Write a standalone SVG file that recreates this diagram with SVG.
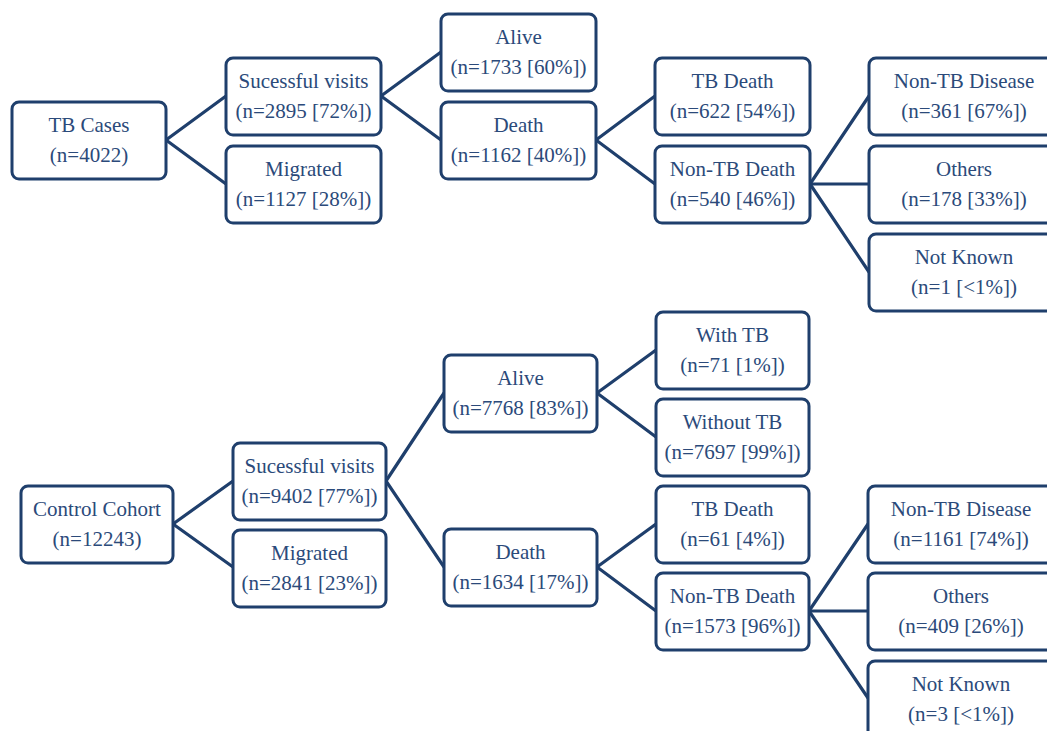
<svg xmlns="http://www.w3.org/2000/svg" width="1047" height="731" viewBox="0 0 1047 731">
<style>
.b{fill:#fff;stroke:#1f3f6c;stroke-width:3}
.t{font-size:21px;fill:#2b4a7a;text-anchor:middle}
.c line{stroke:#1f3f6c;stroke-width:3.2;stroke-linecap:round}
</style>
<rect width="1047" height="731" fill="#fff"/>
<g class="c" id="connectors">
<line x1="166" y1="140" x2="226" y2="96"/>
<line x1="166" y1="140" x2="226" y2="184"/>
<line x1="381" y1="96" x2="441" y2="52"/>
<line x1="381" y1="96" x2="441" y2="140"/>
<line x1="596" y1="140" x2="655" y2="96"/>
<line x1="596" y1="140" x2="655" y2="184"/>
<line x1="810" y1="184" x2="869" y2="96"/>
<line x1="810" y1="184" x2="869" y2="184"/>
<line x1="810" y1="184" x2="869" y2="272"/>
<line x1="173" y1="524" x2="233" y2="481"/>
<line x1="173" y1="524" x2="233" y2="567"/>
<line x1="386" y1="481" x2="444" y2="393"/>
<line x1="386" y1="481" x2="444" y2="567"/>
<line x1="597" y1="393" x2="656" y2="350"/>
<line x1="597" y1="393" x2="656" y2="437"/>
<line x1="597" y1="567" x2="656" y2="524"/>
<line x1="597" y1="567" x2="656" y2="611"/>
<line x1="809" y1="611" x2="868" y2="524"/>
<line x1="809" y1="611" x2="868" y2="611"/>
<line x1="809" y1="611" x2="868" y2="698"/>
</g>
<g font-family="'Liberation Serif', 'DejaVu Serif', serif">
<g id="tb-cases"><rect class="b" x="12" y="102" width="154" height="77" rx="7"/><text class="t" x="89" y="132">TB Cases</text><text class="t" x="89" y="162">(n=4022)</text></g>
<g id="tb-sv"><rect class="b" x="226" y="58" width="155" height="77" rx="7"/><text class="t" x="303.5" y="88">Sucessful visits</text><text class="t" x="303.5" y="118">(n=2895 [72%])</text></g>
<g id="tb-mig"><rect class="b" x="226" y="146" width="155" height="77" rx="7"/><text class="t" x="303.5" y="176">Migrated</text><text class="t" x="303.5" y="206">(n=1127 [28%])</text></g>
<g id="tb-alive"><rect class="b" x="441" y="14" width="155" height="77" rx="7"/><text class="t" x="518.5" y="44">Alive</text><text class="t" x="518.5" y="74">(n=1733 [60%])</text></g>
<g id="tb-death"><rect class="b" x="441" y="102" width="155" height="77" rx="7"/><text class="t" x="518.5" y="132">Death</text><text class="t" x="518.5" y="162">(n=1162 [40%])</text></g>
<g id="tb-tbdeath"><rect class="b" x="655" y="58" width="155" height="77" rx="7"/><text class="t" x="732.5" y="88">TB Death</text><text class="t" x="732.5" y="118">(n=622 [54%])</text></g>
<g id="tb-nontbdeath"><rect class="b" x="655" y="146" width="155" height="77" rx="7"/><text class="t" x="732.5" y="176">Non-TB Death</text><text class="t" x="732.5" y="206">(n=540 [46%])</text></g>
<g id="tb-nontbdisease"><rect class="b" x="869" y="58" width="190" height="77" rx="7"/><text class="t" x="964" y="88">Non-TB Disease</text><text class="t" x="964" y="118">(n=361 [67%])</text></g>
<g id="tb-others"><rect class="b" x="869" y="146" width="190" height="77" rx="7"/><text class="t" x="964" y="176">Others</text><text class="t" x="964" y="206">(n=178 [33%])</text></g>
<g id="tb-notknown"><rect class="b" x="869" y="234" width="190" height="77" rx="7"/><text class="t" x="964" y="264">Not Known</text><text class="t" x="964" y="294">(n=1 [&lt;1%])</text></g>
<g id="cc"><rect class="b" x="21" y="486" width="152" height="77" rx="7"/><text class="t" x="97" y="516">Control Cohort</text><text class="t" x="97" y="546">(n=12243)</text></g>
<g id="cc-sv"><rect class="b" x="233" y="443" width="153" height="77" rx="7"/><text class="t" x="309.5" y="473">Sucessful visits</text><text class="t" x="309.5" y="503">(n=9402 [77%])</text></g>
<g id="cc-mig"><rect class="b" x="233" y="530" width="153" height="77" rx="7"/><text class="t" x="309.5" y="560">Migrated</text><text class="t" x="309.5" y="590">(n=2841 [23%])</text></g>
<g id="cc-alive"><rect class="b" x="444" y="355" width="153" height="77" rx="7"/><text class="t" x="520.5" y="385">Alive</text><text class="t" x="520.5" y="415">(n=7768 [83%])</text></g>
<g id="cc-death"><rect class="b" x="444" y="529" width="153" height="77" rx="7"/><text class="t" x="520.5" y="559">Death</text><text class="t" x="520.5" y="589">(n=1634 [17%])</text></g>
<g id="cc-withtb"><rect class="b" x="656" y="312" width="153" height="77" rx="7"/><text class="t" x="732.5" y="342">With TB</text><text class="t" x="732.5" y="372">(n=71 [1%])</text></g>
<g id="cc-withouttb"><rect class="b" x="656" y="399" width="153" height="77" rx="7"/><text class="t" x="732.5" y="429">Without TB</text><text class="t" x="732.5" y="459">(n=7697 [99%])</text></g>
<g id="cc-tbdeath"><rect class="b" x="656" y="486" width="153" height="77" rx="7"/><text class="t" x="732.5" y="516">TB Death</text><text class="t" x="732.5" y="546">(n=61 [4%])</text></g>
<g id="cc-nontbdeath"><rect class="b" x="656" y="573" width="153" height="77" rx="7"/><text class="t" x="732.5" y="603">Non-TB Death</text><text class="t" x="732.5" y="633">(n=1573 [96%])</text></g>
<g id="cc-nontbdisease"><rect class="b" x="868" y="486" width="187" height="77" rx="7"/><text class="t" x="961" y="516">Non-TB Disease</text><text class="t" x="961" y="546">(n=1161 [74%])</text></g>
<g id="cc-others"><rect class="b" x="868" y="573" width="187" height="77" rx="7"/><text class="t" x="961" y="603">Others</text><text class="t" x="961" y="633">(n=409 [26%])</text></g>
<g id="cc-notknown"><rect class="b" x="868" y="661" width="187" height="77" rx="7"/><text class="t" x="961" y="691">Not Known</text><text class="t" x="961" y="721">(n=3 [&lt;1%])</text></g>
</g>
</svg>
